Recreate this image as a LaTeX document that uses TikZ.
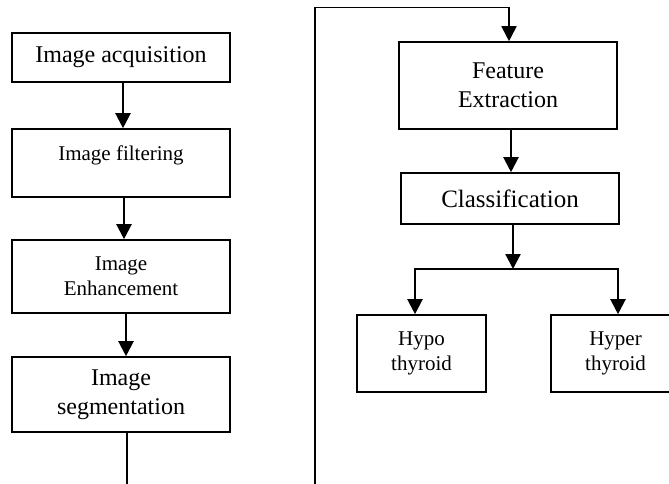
\documentclass[tikz,border=0pt]{standalone}
\usepackage{fontspec}
\setmainfont{Liberation Serif}
\usetikzlibrary{arrows.meta}
\begin{document}
\begin{tikzpicture}[x=1pt,y=-1pt,
  box/.style={draw,line width=1.6pt,align=center,inner sep=0pt},
  fbig/.style={font=\fontsize{24}{28.5}\selectfont},
  fsmall/.style={font=\fontsize{21}{25}\selectfont},
  arr/.style={line width=2.2pt,-{Triangle[length=15pt,width=15pt]}},
  ln/.style={line width=2.2pt}]
\useasboundingbox (0,0) rectangle (669,484);
% left column
\node[box,fbig,minimum width=218pt,minimum height=49pt] (acq) at (121,57.5) {Image acquisition};
\node[box,minimum width=218pt,minimum height=68pt] (filt) at (121,163) {};
\node[fsmall,inner sep=0pt] (filtT) at (121,155) {Image filtering};
\node[box,fsmall,minimum width=218pt,minimum height=73pt] (enh) at (121,276.5) {Image\\Enhancement};
\node[box,fbig,minimum width=218pt,minimum height=75pt] (seg) at (121,394.5) {Image\\segmentation};
% right column
\node[box,fbig,minimum width=218pt,minimum height=87pt] (feat) at (508,85.5) {Feature\\Extraction};
\node[box,font=\fontsize{25}{29}\selectfont,minimum width=218pt,minimum height=51pt] (cls) at (510,198.5) {Classification};
\node[box,fsmall,minimum width=129pt,minimum height=77pt] (hypo) at (421.5,353.5) {Hypo\\thyroid};
\node[box,fsmall,minimum width=129pt,minimum height=77pt] (hyper) at (615.5,353.5) {Hyper\\thyroid};
% connectors left
\draw[arr] ([xshift=2pt]acq.south) -- ([xshift=2pt]acq.south |- filt.north);
\draw[arr] ([xshift=3pt]filt.south) -- ([xshift=3pt]filt.south |- enh.north);
\draw[arr] ([xshift=5pt]enh.south) -- ([xshift=5pt]enh.south |- seg.north);
\coordinate (segEnd) at (127,490);
\draw[ln] ([xshift=6pt]seg.south) -- ([xshift=6pt]seg.south |- segEnd);
% return path
\coordinate (bl) at (315,490);
\coordinate (tl) at (315,7.5);
\draw[line width=1.8pt,-{Triangle[length=15pt,width=15pt]}] (bl) -- (tl) -| ([xshift=1pt]feat.north);
% connectors right
\draw[arr] ([xshift=3pt]feat.south) -- ([xshift=3pt]feat.south |- cls.north);
\coordinate (br) at (513,269);
\draw[arr] (cls.south -| br) -- (br);
\draw[arr] (br) -| ([xshift=-6.5pt]hypo.north);
\draw[arr] (br) -| ([xshift=2.5pt]hyper.north);
\end{tikzpicture}
\end{document}
